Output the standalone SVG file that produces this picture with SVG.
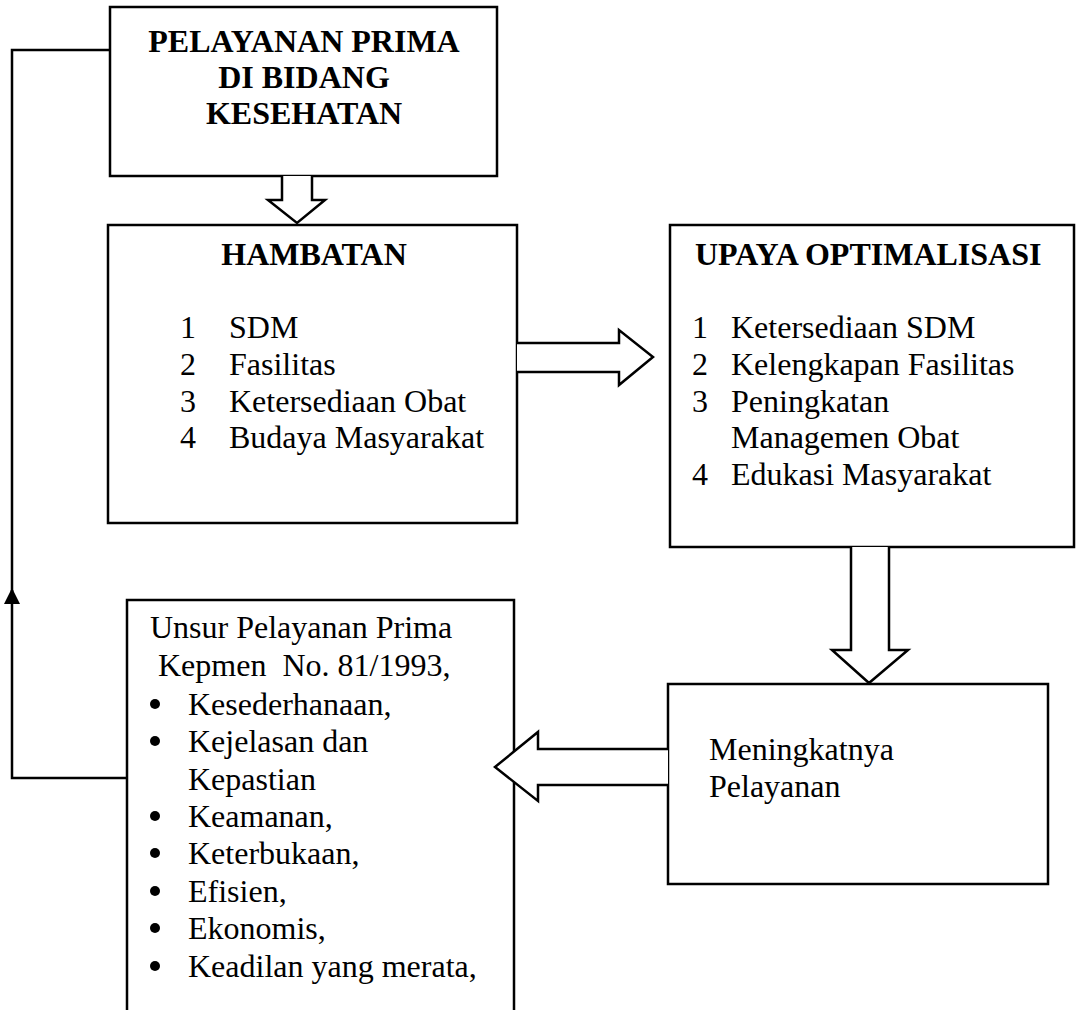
<svg xmlns="http://www.w3.org/2000/svg" width="1077" height="1010" viewBox="0 0 1077 1010">
<style>
.box{fill:#fff;stroke:#000;stroke-width:2.5}
.arr{fill:#fff;stroke:#000;stroke-width:2.5;stroke-linejoin:miter}
.ln{fill:none;stroke:#000;stroke-width:2.5}
text{font-family:"Liberation Serif","Times New Roman",serif;font-size:32px;fill:#000}
.b{font-weight:bold}
</style>
<defs>
<marker id="tri" markerWidth="16" markerHeight="16" refX="8" refY="1" orient="auto-start-reverse" markerUnits="userSpaceOnUse" viewBox="0 0 16 16">
<path d="M1,15 L8,0 L15,15 Z" fill="#000"/>
</marker>
</defs>
<rect width="1077" height="1010" fill="#fff"/>

<g id="node-pelayanan">
<rect class="box" x="110" y="7" width="387" height="169"/>
<text class="b" x="304" y="52" text-anchor="middle">PELAYANAN PRIMA</text>
<text class="b" x="304" y="88" text-anchor="middle">DI BIDANG</text>
<text class="b" x="304" y="124" text-anchor="middle">KESEHATAN</text>
</g>

<g id="node-hambatan">
<rect class="box" x="108" y="225" width="409" height="298"/>
<text class="b" x="314" y="265" text-anchor="middle">HAMBATAN</text>
<text x="180" y="338">1</text><text x="229" y="338">SDM</text>
<text x="180" y="375">2</text><text x="229" y="375">Fasilitas</text>
<text x="180" y="412">3</text><text x="229" y="412">Ketersediaan Obat</text>
<text x="180" y="448">4</text><text x="229" y="448">Budaya Masyarakat</text>
</g>

<g id="node-upaya">
<rect class="box" x="670" y="225" width="404" height="322"/>
<text class="b" x="695" y="265">UPAYA OPTIMALISASI</text>
<text x="692" y="338">1</text><text x="731" y="338">Ketersediaan SDM</text>
<text x="692" y="375">2</text><text x="731" y="375">Kelengkapan Fasilitas</text>
<text x="692" y="412">3</text><text x="731" y="412">Peningkatan</text>
<text x="731" y="448">Managemen Obat</text>
<text x="692" y="485">4</text><text x="731" y="485">Edukasi Masyarakat</text>
</g>

<g id="node-meningkatnya">
<rect class="box" x="668" y="684" width="380" height="200"/>
<text x="709" y="760">Meningkatnya</text>
<text x="709" y="797">Pelayanan</text>
</g>

<g id="node-unsur">
<rect class="box" x="127" y="600" width="387" height="420"/>
<text x="150" y="638">Unsur Pelayanan Prima</text>
<text x="150" y="676" xml:space="preserve"> Kepmen  No. 81/1993,</text>
<g fill="#000">
<circle cx="155" cy="704" r="5"/>
<circle cx="155" cy="741" r="5"/>
<circle cx="155" cy="816" r="5"/>
<circle cx="155" cy="853" r="5"/>
<circle cx="155" cy="891" r="5"/>
<circle cx="155" cy="928" r="5"/>
<circle cx="155" cy="966" r="5"/>
</g>
<text x="188" y="715">Kesederhanaan,</text>
<text x="188" y="752">Kejelasan dan</text>
<text x="188" y="790">Kepastian</text>
<text x="188" y="827">Keamanan,</text>
<text x="188" y="864">Keterbukaan,</text>
<text x="188" y="902">Efisien,</text>
<text x="188" y="939">Ekonomis,</text>
<text x="188" y="977">Keadilan yang merata,</text>
</g>

<g id="connectors">
<path class="arr" d="M282,176 L282,200 L268,200 L297,223 L325,200 L312,200 L312,176"/>
<path class="arr" d="M517,343 L619,343 L619,330 L653,357 L619,385 L619,372 L517,372"/>
<path class="arr" d="M851,547 L851,650 L832,650 L869,683 L908,650 L889,650 L889,547"/>
<path class="arr" d="M668,749 L538,749 L538,732 L495,767 L538,801 L538,785 L668,785"/>
<path class="ln" d="M127,778 L12,778 L12,590"/>
<path d="M4,604 L12,588 L20,604 Z" fill="#000"/>
<path class="ln" d="M12,600 L12,50 L110,50"/>
</g>
</svg>
